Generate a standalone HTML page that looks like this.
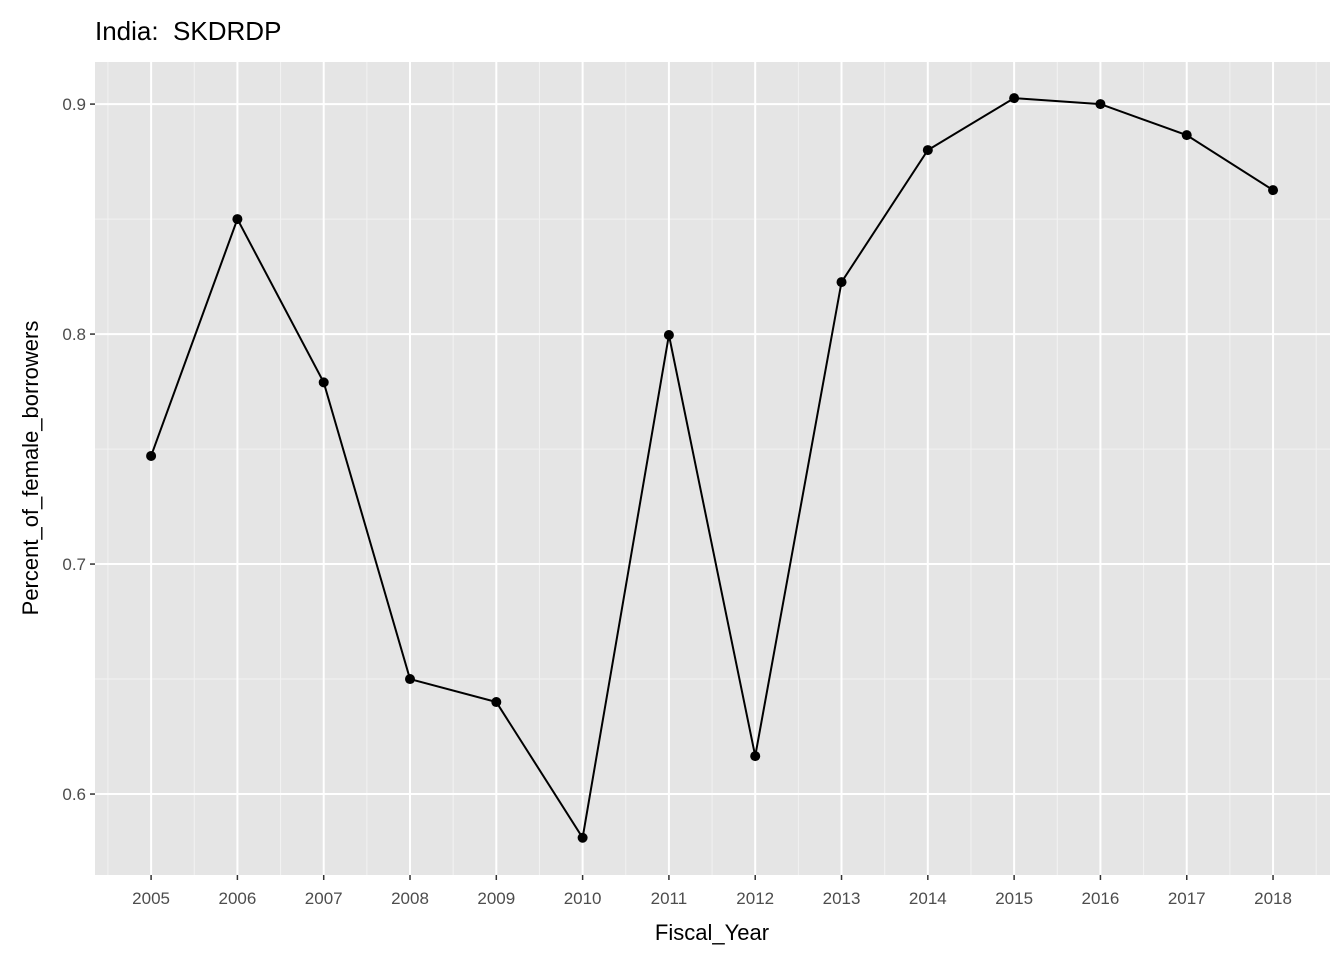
<!DOCTYPE html>
<html><head><meta charset="utf-8"><style>
body{margin:0;background:#fff;font-family:"Liberation Sans",Arial,sans-serif;}
</style></head><body>
<svg id="chart" width="1344" height="960" xmlns="http://www.w3.org/2000/svg">
<text x="95" y="40" font-size="26" fill="#000" style="white-space:pre">India:&#160; SKDRDP</text>
<rect x="95" y="62" width="1235" height="813" fill="#e5e5e5"/>
<g id="grid"></g><g id="series"></g><g id="axes"></g>
<text x="712" y="940" font-size="22" text-anchor="middle" fill="#000">Fiscal_Year</text>
<text transform="translate(38,468) rotate(-90)" font-size="22" text-anchor="middle" fill="#000">Percent_of_female_borrowers</text>
</svg>
<script>
const years=[2005,2006,2007,2008,2009,2010,2011,2012,2013,2014,2015,2016,2017,2018];
const values=[0.747,0.850,0.779,0.650,0.640,0.581,0.7996,0.6165,0.8226,0.880,0.9026,0.900,0.8865,0.8626];
const yTicks=[0.6,0.7,0.8,0.9];
const yTickLabels=["0.6","0.7","0.8","0.9"];
const NS="http://www.w3.org/2000/svg";
const X0=95,X1=1330,Y0=62,Y1=875,xmin=2004.35,xmax=2018.66,ymin=0.5648,ymax=0.9183;
function sx(v){return X0+(v-xmin)/(xmax-xmin)*(X1-X0);}
function sy(v){return Y1-(v-ymin)/(ymax-ymin)*(Y1-Y0);}
function mk(tag,attrs,parent){const e=document.createElementNS(NS,tag);for(const k in attrs)e.setAttribute(k,attrs[k]);document.getElementById(parent).appendChild(e);return e;}
for(let i=0;i<yTicks.length+1;i++){const v=yTicks[0]-0.05+0.1*i;if(v>ymin&&v<ymax){const l=mk('line',{x1:X0,x2:X1,y1:sy(v),y2:sy(v),stroke:'#f2f2f2','stroke-width':1},'grid');

}}
for(let i=0;i<=years.length;i++){const v=years[0]-0.5+i;if(v>xmin&&v<xmax){const l=mk('line',{x1:sx(v),x2:sx(v),y1:Y0,y2:Y1,stroke:'#f2f2f2','stroke-width':1},'grid');

}}
yTicks.forEach((v,i)=>{const l=mk('line',{x1:X0,x2:X1,y1:sy(v),y2:sy(v),stroke:'#fff','stroke-width':2},'grid');


const t=mk('line',{x1:X0-5,x2:X0,y1:sy(v),y2:sy(v),stroke:'#333','stroke-width':1.5},'axes');


const tx=mk('text',{x:X0-9,y:sy(v)+6,'font-size':17,'text-anchor':'end',fill:'#4d4d4d'},'axes');tx.textContent=yTickLabels[i];

});
years.forEach(v=>{const l=mk('line',{x1:sx(v),x2:sx(v),y1:Y0,y2:Y1,stroke:'#fff','stroke-width':2},'grid');


const t=mk('line',{x1:sx(v),x2:sx(v),y1:Y1,y2:Y1+5,stroke:'#333','stroke-width':1.5},'axes');


const tx=mk('text',{x:sx(v),y:Y1+29,'font-size':17,'text-anchor':'middle',fill:'#4d4d4d'},'axes');tx.textContent=v;

});
const p=mk('polyline',{points:years.map((y,i)=>sx(y)+','+sy(values[i])).join(' '),fill:'none',stroke:'#000','stroke-width':2},'series');


years.forEach((y,i)=>{const c=mk('circle',{cx:sx(y),cy:sy(values[i]),r:5,fill:'#000'},'series');

});
</script>
</body></html>
